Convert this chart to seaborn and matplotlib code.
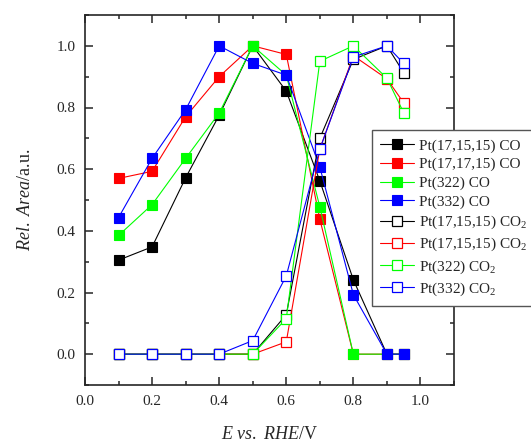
import numpy as np
import pandas as pd
import matplotlib
matplotlib.use("Agg")
import matplotlib.pyplot as plt
import seaborn as sns
from matplotlib.ticker import MultipleLocator

# ---- data ----
E = [0.1, 0.2, 0.3, 0.4, 0.5, 0.6, 0.7, 0.8, 0.9, 0.95]

co_171515 = [0.305, 0.348, 0.572, 0.775, 1.0, 0.853, 0.562, 0.241, 0.0, 0.0]
co_171715 = [0.570, 0.593, 0.770, 0.900, 1.0, 0.972, 0.438, 0.0, 0.0, 0.0]
co_322 = [0.385, 0.485, 0.635, 0.782, 1.0, 0.905, 0.478, 0.0, 0.0, 0.0]
co_332 = [0.443, 0.635, 0.793, 1.0, 0.943, 0.905, 0.607, 0.193, 0.0, 0.0]

co2_171515 = [0.0, 0.0, 0.0, 0.0, 0.0, 0.128, 0.700, 0.956, 1.0, 0.913]
co2_171715 = [0.0, 0.0, 0.0, 0.0, 0.0, 0.040, 0.665, 0.968, 0.893, 0.815]
co2_322 = [0.0, 0.0, 0.0, 0.0, 0.0, 0.115, 0.950, 1.0, 0.895, 0.783]
co2_332 = [0.0, 0.0, 0.0, 0.0, 0.044, 0.254, 0.665, 0.964, 1.0, 0.943]

labels_co = ["Pt(17,15,15) CO", "Pt(17,17,15) CO", "Pt(322) CO", "Pt(332) CO"]
labels_co2 = ["Pt(17,15,15) CO$_2$", "Pt(17,15,15) CO$_2$", "Pt(322) CO$_2$", "Pt(332) CO$_2$"]
colors = ["#000000", "#ff0000", "#00ff00", "#0000ff"]

sns.set_style("ticks")
plt.rcParams["font.family"] = ["Liberation Serif", "DejaVu Serif"]
plt.rcParams["mathtext.fontset"] = "custom"
plt.rcParams["mathtext.rm"] = "Liberation Serif"
plt.rcParams["mathtext.it"] = "Liberation Serif:italic"

fig = plt.figure(figsize=(5.31, 4.42), dpi=100)
ax = fig.add_axes([85 / 531, 1 - 385 / 442, (454 - 85) / 531, (385 - 15) / 442])

for ys, lab, c in zip([co_171515, co_171715, co_322, co_332], labels_co, colors):
    df = pd.DataFrame({"E": E, "A": ys})
    sns.lineplot(data=df, x="E", y="A", ax=ax, color=c, lw=0.8, marker="s",
                 markersize=6.8, markerfacecolor=c, markeredgecolor=c,
                 markeredgewidth=0.8, label=lab)

for ys, lab, c in zip([co2_171515, co2_171715, co2_322, co2_332], labels_co2, colors):
    df = pd.DataFrame({"E": E, "A": ys})
    sns.lineplot(data=df, x="E", y="A", ax=ax, color=c, lw=0.8, marker="s",
                 markersize=6.8, markerfacecolor="white", markeredgecolor=c,
                 markeredgewidth=0.9, label=lab)

ax.set_xlim(0, 1.1)
ax.set_ylim(-0.1, 1.1)
ax.xaxis.set_minor_locator(MultipleLocator(0.1))
ax.yaxis.set_minor_locator(MultipleLocator(0.1))
ax.set_xticks([0.0, 0.2, 0.4, 0.6, 0.8, 1.0])
ax.set_xticklabels(["0.0", "0.2", "0.4", "0.6", "0.8", "1.0"])
ax.set_yticks([0.0, 0.2, 0.4, 0.6, 0.8, 1.0])
ax.set_yticklabels(["0.0", "0.2", "0.4", "0.6", "0.8", "1.0"])
ax.tick_params(which="both", direction="in", top=True, right=True, width=1.1,
               labelsize=11, pad=7)
ax.tick_params(which="major", length=6)
ax.tick_params(which="minor", length=3)
for s in ax.spines.values():
    s.set_linewidth(1.2)

ax.set_xlabel(r"$E$ $vs.$ $RHE$/V", fontsize=13, labelpad=13)
ax.set_ylabel(r"$Rel.$ $Area$/a.u.", fontsize=13, labelpad=16)

leg = ax.legend(loc="upper left", bbox_to_anchor=(0.778, 0.688), fontsize=11,
                frameon=True, fancybox=False, edgecolor="#555555",
                handlelength=2.2, handletextpad=0.3, borderpad=0.55,
                labelspacing=0.32, borderaxespad=0)
leg.get_frame().set_linewidth(1.0)
leg.get_frame().set_alpha(1)

fig.savefig("out.png", dpi=100)
